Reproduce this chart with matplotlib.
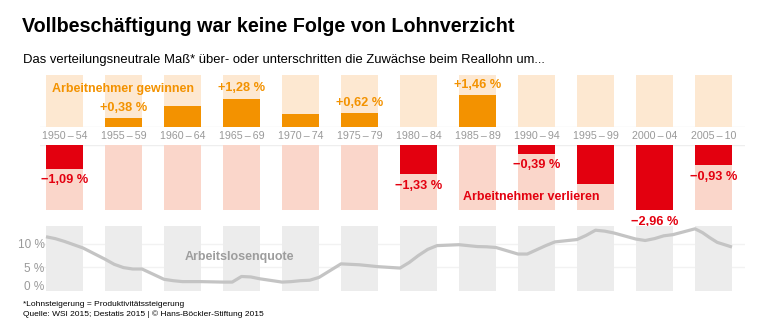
import numpy as np
import matplotlib
matplotlib.use("Agg")
import matplotlib.pyplot as plt

plt.rcParams['font.family'] = ['Liberation Sans', 'DejaVu Sans']

# Abweichung der Reallohnzuwächse vom verteilungsneutralen Spielraum, in %
periods = ['1950–54', '1955–59', '1960–64', '1965–69', '1970–74', '1975–79',
           '1980–84', '1985–89', '1990–94', '1995–99', '2000–04', '2005–10']
period_years = [(1950, 1954), (1955, 1959), (1960, 1964), (1965, 1969),
                (1970, 1974), (1975, 1979), (1980, 1984), (1985, 1989),
                (1990, 1994), (1995, 1999), (2000, 2004), (2005, 2010)]
diff = [-1.09, 0.38, 0.93, 1.28, 0.60, 0.62, -1.33, 1.46, -0.39, -1.77, -2.96, -0.93]
show_label = [True, True, False, True, False, True, True, True, True, False, True, True]

# Arbeitslosenquote pro Jahr, in %
years = list(range(1950, 2011))
unemployment = [11.5, 11.1, 10.5, 9.8, 9.1,
                6.7, 5.6, 4.9, 4.6, 4.6,
                2.4, 2.1, 1.9, 1.9, 1.9,
                1.8, 1.8, 3.0, 2.9, 2.5,
                1.8, 1.9, 2.1, 2.2, 2.8,
                5.7, 5.6, 5.5, 5.3, 5.1,
                4.8, 6.0, 7.5, 8.8, 9.6,
                9.8, 9.6, 9.4, 9.35, 9.2,
                7.8, 7.8, 8.7, 9.6, 10.4,
                10.9, 11.8, 12.9, 12.7, 12.3,
                11.0, 10.7, 11.1, 11.7, 11.95,
                13.2, 12.4, 11.3, 10.3, 9.8, 9.3]

ORANGE = '#f39200'
ORANGE_BG = '#fde8d1'
RED = '#e3000f'
RED_BG = '#fad6ca'
GRAY_BG = '#ececec'
LINE = '#c4c4c4'
TXT_GRAY = '#999999'

W, H = 768, 332
fig = plt.figure(figsize=(W / 100, H / 100), dpi=100)


def px_box(x0, y0, x1, y1):
    return [x0 / W, 1 - y1 / H, (x1 - x0) / W, (y1 - y0) / H]


def px_text(x, y, s, **kw):
    return fig.text(x / W, 1 - y / H, s, va='center', ha='left', **kw)


# column i sits at x = i; axes span pixels 40..745
XL = (-0.415, 11.534)
BW = 0.627
x = np.arange(len(periods))

ax_top = fig.add_axes(px_box(40, 75, 745, 126.7))
ax_bot = fig.add_axes(px_box(40, 145, 745, 210))
ax_line = fig.add_axes(px_box(40, 226, 745, 290.5))
for ax in (ax_top, ax_bot, ax_line):
    ax.set_xlim(*XL)
    ax.axis('off')

# oben: Arbeitnehmer gewinnen
TOP_MAX = 2.36
ax_top.set_ylim(0, TOP_MAX)
ax_top.bar(x, TOP_MAX, width=BW, color=ORANGE_BG, zorder=1)
gain = [max(v, 0) for v in diff]
ax_top.bar(x, gain, width=BW, color=ORANGE, zorder=2)
ax_top.axhline(0, color='#eeeeee', lw=1, zorder=0)
for i, v in enumerate(diff):
    if v > 0 and show_label[i]:
        ax_top.annotate(f'+{v:.2f} %'.replace('.', ','), (i, v),
                        xytext=(0, 3), textcoords='offset points',
                        ha='center', va='bottom', color=ORANGE,
                        fontsize=9.2, fontweight='bold')
for i, p in enumerate(periods):
    ax_top.text(i, -0.42, p.replace('–', '\u2009–\u2009'), ha='center', va='center',
                color=TXT_GRAY, fontsize=7.7, clip_on=False)

# unten: Arbeitnehmer verlieren
ax_bot.set_ylim(-2.96, 0)
ax_bot.bar(x, -2.96, width=BW, color=RED_BG, zorder=1)
loss = [min(v, 0) for v in diff]
ax_bot.bar(x, loss, width=BW, color=RED, zorder=2)
ax_bot.axhline(0, color='#eeeeee', lw=1, zorder=0)
for i, v in enumerate(diff):
    if v < 0 and show_label[i]:
        ax_bot.annotate(f'\u2212{-v:.2f} %'.replace('.', ','), (i, v),
                        xytext=(0, -4), textcoords='offset points',
                        ha='center', va='top', color=RED,
                        fontsize=9.2, fontweight='bold', annotation_clip=False)

# Arbeitslosenquote
ax_line.set_ylim(0, 13.8)
ax_line.bar(x, 13.8, width=BW, color=GRAY_BG, zorder=1)
for g in (5, 10):
    ax_line.axhline(g, color='#f2f2f2', lw=1, zorder=0)
line_x = []
for yr in years:
    for i, (a, b) in enumerate(period_years):
        if a <= yr <= b:
            line_x.append(i - BW / 2 + (yr - a) / (b - a) * BW)
ax_line.plot(line_x, unemployment, color=LINE, lw=2.3, zorder=3,
             solid_capstyle='butt', solid_joinstyle='round')
for g, lab in ((10, '10 %'), (5, '5 %')):
    ax_line.text(-0.34, g - 0.3, lab, ha='right', va='center', color=TXT_GRAY,
                 fontsize=8.5, clip_on=False)
ax_line.text(-0.34, 0.8, '0 %', ha='right', va='center', color=TXT_GRAY,
             fontsize=8.5, clip_on=False)

# Beschriftungen
px_text(22, 27, 'Vollbeschäftigung war keine Folge von Lohnverzicht',
        fontsize=14.2, fontweight='bold')
px_text(23, 60, 'Das verteilungsneutrale Maß* über- oder unterschritten '
        'die Zuwächse beim Reallohn um...', fontsize=9.4)
px_text(52, 89, 'Arbeitnehmer gewinnen', color=ORANGE,
        fontsize=9, fontweight='bold')
px_text(463, 197, 'Arbeitnehmer verlieren', color=RED,
        fontsize=9, fontweight='bold')
px_text(185, 257, 'Arbeitslosenquote', color='#9d9d9d',
        fontsize=9, fontweight='bold')
px_text(23, 304, '*Lohnsteigerung = Produktivitätssteigerung', fontsize=6)
px_text(23, 314, 'Quelle: WSI 2015; Destatis 2015 | © Hans-Böckler-Stiftung 2015',
        fontsize=6)

fig.savefig('out.png', dpi=100)
